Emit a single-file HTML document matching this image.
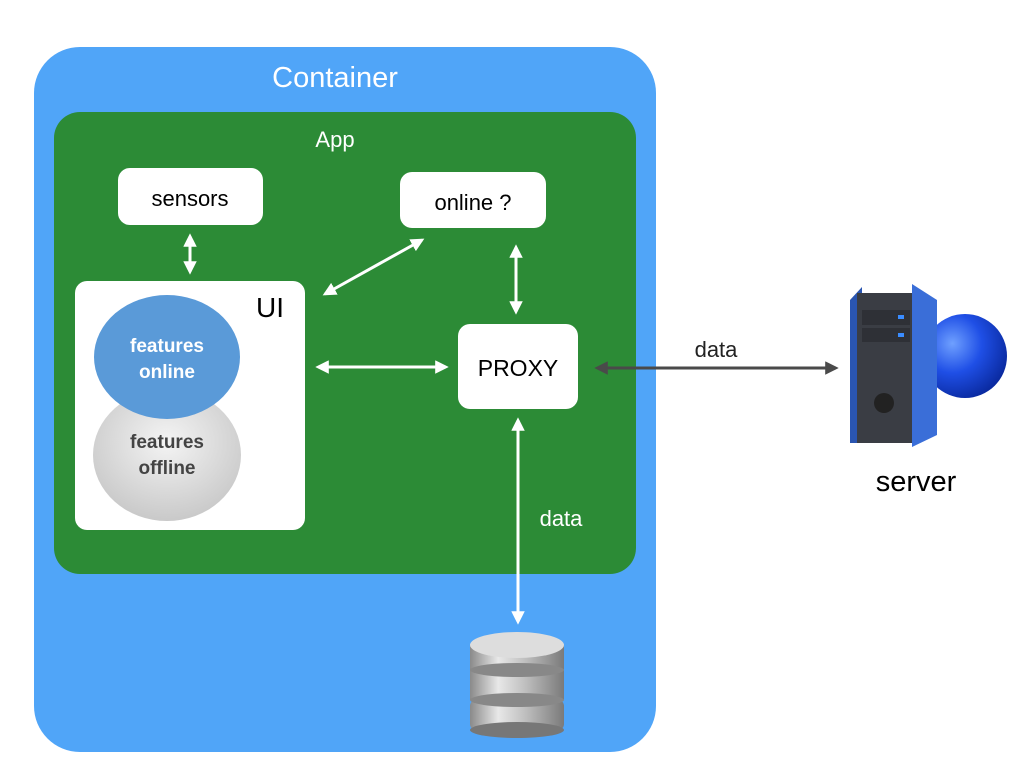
<!DOCTYPE html>
<html><head><meta charset="utf-8"><style>body{margin:0;background:#fff}svg{display:block}</style></head><body>
<svg width="1024" height="768" viewBox="0 0 1024 768" xmlns="http://www.w3.org/2000/svg" font-family="Liberation Sans, sans-serif">
<defs>
<marker id="w" viewBox="0 0 10 10" refX="8" refY="5" markerWidth="4.5" markerHeight="4.5" orient="auto-start-reverse"><path d="M0,0L10,5L0,10z" fill="#fff"/></marker>
<marker id="g" viewBox="0 0 10 10" refX="8" refY="5" markerWidth="4.5" markerHeight="4.5" orient="auto-start-reverse"><path d="M0,0L10,5L0,10z" fill="#4a4a4a"/></marker>
<radialGradient id="off" cx="0.5" cy="0.4" r="0.6"><stop offset="0" stop-color="#f4f4f4"/><stop offset="1" stop-color="#c9c9c9"/></radialGradient>
<linearGradient id="cyl" x1="0" x2="1"><stop offset="0" stop-color="#8a8a8a"/><stop offset="0.3" stop-color="#e8e8e8"/><stop offset="0.6" stop-color="#bdbdbd"/><stop offset="1" stop-color="#7a7a7a"/></linearGradient>
<radialGradient id="ball" cx="0.35" cy="0.35" r="0.7"><stop offset="0" stop-color="#6fa0ff"/><stop offset="0.5" stop-color="#1f4fe6"/><stop offset="1" stop-color="#0a2aa0"/></radialGradient>
</defs>
<rect x="34" y="47" width="622" height="705" rx="46" fill="#50a5f8"/>
<text x="335" y="87" font-size="29" fill="#fff" text-anchor="middle">Container</text>
<rect x="54" y="112" width="582" height="462" rx="26" fill="#2c8b36"/>
<text x="335" y="147" font-size="22" fill="#fff" text-anchor="middle">App</text>
<rect x="118" y="168" width="145" height="57" rx="12" fill="#fff"/>
<text x="190" y="206" font-size="22" text-anchor="middle">sensors</text>
<rect x="400" y="172" width="146" height="56" rx="12" fill="#fff"/>
<text x="473" y="210" font-size="22" text-anchor="middle">online ?</text>
<rect x="75" y="281" width="230" height="249" rx="12" fill="#fff"/>
<text x="270" y="317" font-size="28" text-anchor="middle">UI</text>
<ellipse cx="167" cy="455" rx="74" ry="66" fill="url(#off)"/>
<text x="167" y="448" font-size="19" font-weight="bold" fill="#444" text-anchor="middle">features</text>
<text x="167" y="474" font-size="19" font-weight="bold" fill="#444" text-anchor="middle">offline</text>
<ellipse cx="167" cy="357" rx="73" ry="62" fill="#5a9ad8"/>
<text x="167" y="352" font-size="19" font-weight="bold" fill="#fff" text-anchor="middle">features</text>
<text x="167" y="378" font-size="19" font-weight="bold" fill="#fff" text-anchor="middle">online</text>
<rect x="458" y="324" width="120" height="85" rx="12" fill="#fff"/>
<text x="518" y="376" font-size="23" text-anchor="middle">PROXY</text>
<g stroke="#fff" stroke-width="3" fill="none" marker-start="url(#w)" marker-end="url(#w)">
<line x1="190" y1="236" x2="190" y2="272"/>
<line x1="325" y1="294" x2="422" y2="240"/>
<line x1="516" y1="247" x2="516" y2="312"/>
<line x1="318" y1="367" x2="446" y2="367"/>
<line x1="518" y1="420" x2="518" y2="622"/>
</g>
<line x1="597" y1="368" x2="836" y2="368" stroke="#4a4a4a" stroke-width="3" marker-start="url(#g)" marker-end="url(#g)"/>
<text x="716" y="357" font-size="22" fill="#222" text-anchor="middle">data</text>
<text x="561" y="526" font-size="22" fill="#fff" text-anchor="middle">data</text>
<text x="916" y="491" font-size="29" text-anchor="middle">server</text>
<g>
<rect x="470" y="700" width="94" height="30" rx="6" fill="url(#cyl)"/>
<ellipse cx="517" cy="730" rx="47" ry="8" fill="#777"/>
<rect x="470" y="668" width="94" height="32" fill="url(#cyl)"/>
<ellipse cx="517" cy="700" rx="47" ry="7" fill="#888"/>
<rect x="470" y="645" width="94" height="26" fill="url(#cyl)"/>
<ellipse cx="517" cy="670" rx="47" ry="7" fill="#888"/>
<ellipse cx="517" cy="645" rx="47" ry="13" fill="#ddd"/>
</g>
<g>
<ellipse cx="965" cy="356" rx="42" ry="42" fill="url(#ball)"/>
<polygon points="850,300 862,287 862,443 850,443" fill="#2a55b0"/>
<rect x="857" y="293" width="58" height="150" fill="#3a3d44"/>
<rect x="862" y="310" width="48" height="15" fill="#2e3036"/>
<rect x="862" y="328" width="48" height="14" fill="#2e3036"/>
<rect x="898" y="315" width="6" height="4" fill="#3a8cff"/>
<rect x="898" y="333" width="6" height="4" fill="#3a8cff"/>
<circle cx="884" cy="403" r="10" fill="#222"/>
<polygon points="912,284 937,300 937,435 912,447" fill="#3a6ed8"/>
</g>
</svg>
</body></html>
